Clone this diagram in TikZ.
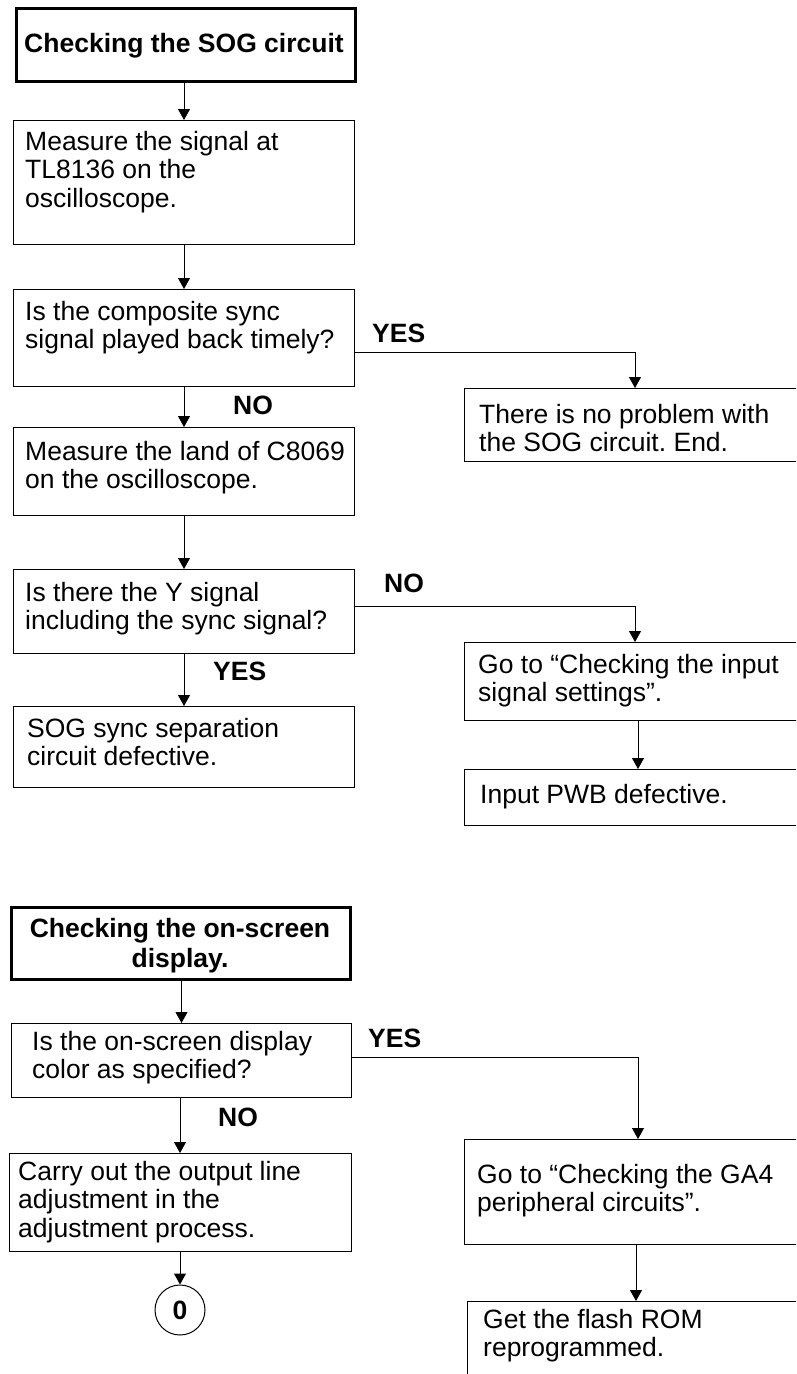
\documentclass[tikz,border=0pt]{standalone}
\usepackage{fontspec}
\setmainfont{Liberation Sans}
\usetikzlibrary{arrows.meta}
\frenchspacing
\tikzset{
  box/.style={draw, line width=1pt, rectangle, anchor=north west, inner sep=0pt},
  headbox/.style={draw, line width=3pt, rectangle, anchor=north west, inner sep=0pt},
  txt/.style={anchor=base west, inner sep=0pt, font=\fontsize{26.5}{28.5}\selectfont},
  htxt/.style={anchor=base, inner sep=0pt, font=\fontsize{26.5}{30}\selectfont\bfseries},
  lbl/.style={anchor=base west, inner sep=0pt, font=\fontsize{26.5}{28.5}\selectfont\bfseries},
  arr/.style={line width=1pt, -{Triangle[width=12pt,length=11pt]}},
  conn/.style={draw, circle, line width=1pt, minimum size=50pt, inner sep=0pt, font=\fontsize{26.5}{28.5}\selectfont\bfseries},
}
\begin{document}
\begin{tikzpicture}[x=1pt,y=-1pt]
\useasboundingbox (0,0) rectangle (796,1374);
\clip (0,0) rectangle (796,1374);
\fill[white] (0,0) rectangle (796,1374);

% ---------- upper chart ----------
\node[headbox, minimum width=339.5pt, minimum height=73.5pt] (h1) at (14.5,6.5) {};
\node[htxt] (h1t) at (184,52) {Checking the SOG circuit};

\node[box, minimum width=341pt, minimum height=124pt] (b2) at (13,120) {};
\node[txt] (b2t) at (25,150) {\parbox[t]{330pt}{Measure the signal at\\TL8136 on the\\oscilloscope.}};

\node[box, minimum width=341pt, minimum height=97pt] (b3) at (13,289) {};
\node[txt] (b3t) at (25,320) {\parbox[t]{330pt}{Is the composite sync\\signal played back timely?}};

\node[box, minimum width=356pt, minimum height=73pt] (r1) at (464,388) {};
\node[txt] (r1t) at (479,423) {\parbox[t]{320pt}{There is no problem with\\the SOG circuit. End.}};

\node[box, minimum width=341pt, minimum height=88pt] (b4) at (13,427) {};
\node[txt] (b4t) at (25,460) {\parbox[t]{330pt}{Measure the land of C8069\\on the oscilloscope.}};

\node[box, minimum width=341pt, minimum height=84pt] (b5) at (13,569) {};
\node[txt] (b5t) at (25,601) {\parbox[t]{330pt}{Is there the Y signal\\including the sync signal?}};

\node[box, minimum width=356pt, minimum height=78pt] (r2) at (464,642) {};
\node[txt] (r2t) at (478,673) {\parbox[t]{320pt}{Go to “Checking the input\\signal settings”.}};

\node[box, minimum width=341pt, minimum height=81pt] (b6) at (13,706) {};
\node[txt] (b6t) at (27,737) {\parbox[t]{330pt}{SOG sync separation\\circuit defective.}};

\node[box, minimum width=356pt, minimum height=56pt] (r3) at (464,769) {};
\node[txt] (r3t) at (480,803) {Input PWB defective.};

\node[lbl] (yes1) at (372,342) {YES};
\node[lbl] (no1) at (233,414) {NO};
\node[lbl] (no2) at (384,592) {NO};
\node[lbl] (yes2) at (213,680) {YES};

\coordinate (y1) at (635,352);
\coordinate (n2) at (635,606);
\coordinate (k1) at (638,720);

\draw[arr] (b2.north |- h1.south) -- (b2.north);
\draw[arr] (b2.south) -- (b3.north);
\draw[arr] (b3.east |- y1) -| (r1.north -| y1);
\draw[arr] (b3.south) -- (b4.north);
\draw[arr] (b4.south) -- (b5.north);
\draw[arr] (b5.east |- n2) -| (r2.north -| n2);
\draw[arr] (b5.south) -- (b6.north);
\draw[arr] (r2.south -| k1) -- (r3.north -| k1);

% ---------- lower chart ----------
\node[headbox, minimum width=339pt, minimum height=72pt] (h2) at (9.5,905.5) {};
\node[htxt] (h2t) at (180,937) {\parbox[t]{330pt}{\centering Checking the on-screen\\display.}};

\node[box, minimum width=340pt, minimum height=74pt] (q1) at (11,1023) {};
\node[txt] (q1t) at (32,1050) {\parbox[t]{320pt}{Is the on-screen display\\color as specified?}};

\node[box, minimum width=356pt, minimum height=105pt] (r4) at (464,1139) {};
\node[txt] (r4t) at (477,1183) {\parbox[t]{320pt}{Go to “Checking the GA4\\peripheral circuits”.}};

\node[box, minimum width=342pt, minimum height=98pt] (b7) at (9,1153) {};
\node[txt] (b7t) at (18,1180) {\parbox[t]{330pt}{Carry out the output line\\adjustment in the\\adjustment process.}};

\node[box, minimum width=353pt, minimum height=110pt] (r5) at (467,1301) {};
\node[txt] (r5t) at (483,1328) {\parbox[t]{320pt}{Get the flash ROM\\reprogrammed.}};

\node[conn] (c0) at (180,1310) {0};

\node[lbl] (yes3) at (368,1047) {YES};
\node[lbl] (no3) at (218,1126) {NO};

\coordinate (y3) at (638,1057);
\coordinate (k2) at (636,1244);

\draw[arr] (q1.north |- h2.south) -- (q1.north);
\draw[arr] (q1.east |- y3) -| (r4.north -| y3);
\draw[arr] (c0.north |- q1.south) -- (c0.north |- b7.north);
\draw[arr] (r4.south -| k2) -- (r5.north -| k2);
\draw[arr] (b7.south -| c0) -- (c0.north);
\end{tikzpicture}
\end{document}
